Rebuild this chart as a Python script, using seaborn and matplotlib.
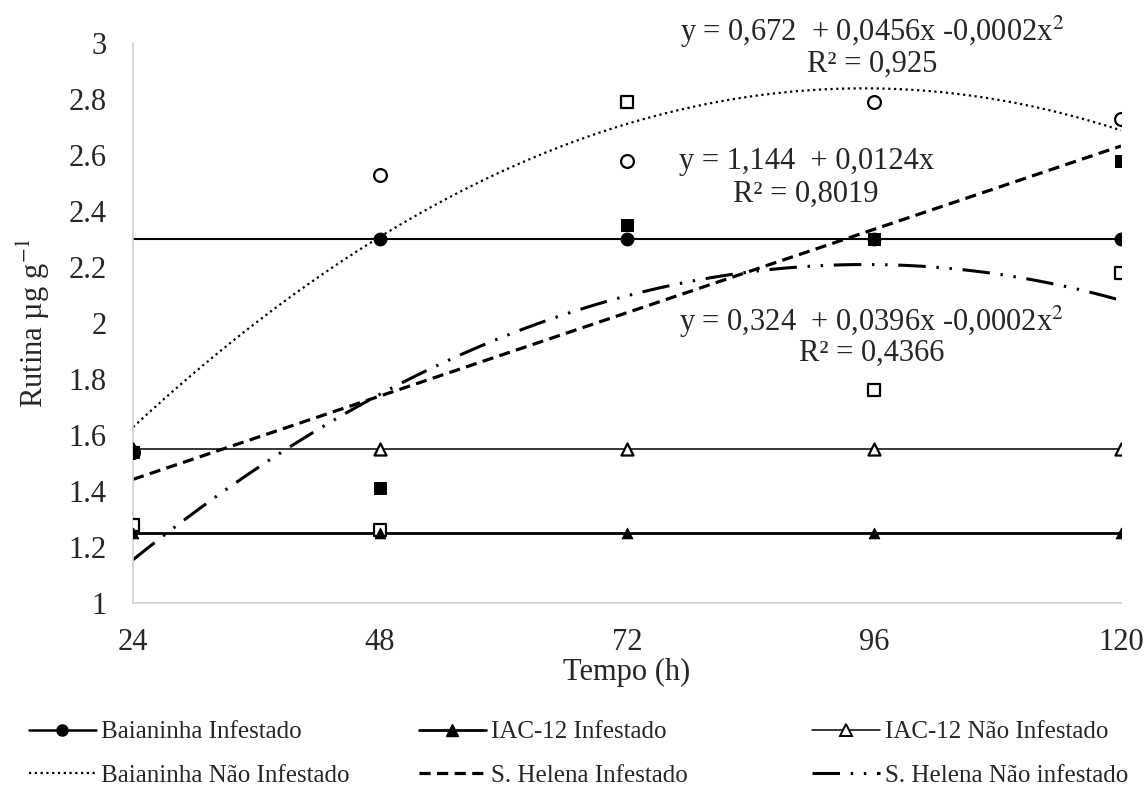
import numpy as np
import pandas as pd
import matplotlib
matplotlib.use("Agg")
import matplotlib.pyplot as plt
import seaborn as sns
from matplotlib.lines import Line2D
from matplotlib.ticker import FuncFormatter

# Rutin content (µg g-1) over time for each cultivar / infestation condition
horas = [24, 48, 72, 96, 120]
baianinha_inf = [1.54, 2.30, 2.30, 2.30, 2.30]
baianinha_nao_inf = [1.54, 2.53, 2.58, 2.79, 2.73]
iac12_inf = [1.25, 1.25, 1.25, 1.25, 1.25]
iac12_nao_inf = [1.55, 1.55, 1.55, 1.55, 1.55]
shelena_inf = [1.54, 1.41, 2.35, 2.30, 2.58]
shelena_nao_inf = [1.28, 1.26, 2.79, 1.76, 2.18]

# constant levels (no significant time effect)
nivel_baianinha_inf = 2.30
nivel_iac12_inf = 1.25
nivel_iac12_nao_inf = 1.55

# regression coefficients (b0, b1, b2)
coef_baianinha_nao_inf = [0.672, 0.0456, -0.00024]
coef_shelena_inf = [1.144, 0.0124, 0.0]
coef_shelena_nao_inf = [0.324, 0.0396, -0.000208]

equacoes = [
    ("y = 0,672  + 0,0456x -0,0002x$^2$", 95.8, 3.04),
    ("R² = 0,925", 95.8, 2.925),
    ("y = 1,144  + 0,0124x", 89.4, 2.575),
    ("R² = 0,8019", 89.4, 2.46),
    ("y = 0,324  + 0,0396x -0,0002x$^2$", 95.8, 2.005),
    ("R² = 0,4366", 95.8, 1.89),
]

sns.set_style("white")
plt.rcParams["font.family"] = ["Liberation Serif", "DejaVu Serif"]
plt.rcParams["mathtext.fontset"] = "stix"

fig = plt.figure(figsize=(11.47, 7.87), dpi=100)
ax = fig.add_axes([0.116, 0.2338, 0.8613, 0.7116])

xs = np.linspace(24, 120, 300)


def curva(c):
    return c[0] + c[1] * xs + c[2] * xs ** 2


curvas = pd.DataFrame({
    "x": xs,
    "bni": curva(coef_baianinha_nao_inf),
    "shi": curva(coef_shelena_inf),
    "shni": curva(coef_shelena_nao_inf),
    "bi": np.full_like(xs, nivel_baianinha_inf),
    "iaci": np.full_like(xs, nivel_iac12_inf),
    "iacni": np.full_like(xs, nivel_iac12_nao_inf),
})

pontilhado = (0, (1, 1.6))
tracejado = (0, (3.5, 2))
traco_ponto_ponto = (0, (9, 3.5, 0.8, 3.5, 0.8, 3.5))

sns.lineplot(data=curvas, x="x", y="iacni", ax=ax, color="black", lw=1.1)
sns.lineplot(data=curvas, x="x", y="iaci", ax=ax, color="black", lw=2.0)
sns.lineplot(data=curvas, x="x", y="bi", ax=ax, color="black", lw=1.5)
sns.lineplot(data=curvas, x="x", y="bni", ax=ax, color="black", lw=1.6,
             linestyle=pontilhado)
sns.lineplot(data=curvas, x="x", y="shi", ax=ax, color="black", lw=2.3,
             linestyle=tracejado)
sns.lineplot(data=curvas, x="x", y="shni", ax=ax, color="black", lw=2.2,
             linestyle=traco_ponto_ponto)

pts = pd.DataFrame({"h": horas, "bi": baianinha_inf, "bni": baianinha_nao_inf,
                    "iaci": iac12_inf, "iacni": iac12_nao_inf,
                    "shi": shelena_inf, "shni": shelena_nao_inf})

ms = 85
sns.scatterplot(data=pts, x="h", y="shni", ax=ax, marker="s", s=ms,
                facecolor="white", edgecolor="black", linewidth=1.6, zorder=5)
sns.scatterplot(data=pts, x="h", y="iacni", ax=ax, marker="^", s=75,
                facecolor="white", edgecolor="black", linewidth=1.6, zorder=5)
sns.scatterplot(data=pts, x="h", y="bni", ax=ax, marker="o", s=ms,
                facecolor="white", edgecolor="black", linewidth=1.6, zorder=5)
sns.scatterplot(data=pts, x="h", y="shi", ax=ax, marker="s", s=75,
                color="black", edgecolor="black", zorder=6)
sns.scatterplot(data=pts, x="h", y="iaci", ax=ax, marker="^", s=60,
                color="black", edgecolor="black", zorder=6)
sns.scatterplot(data=pts, x="h", y="bi", ax=ax, marker="o", s=ms,
                color="black", edgecolor="black", zorder=7)

for txt, x, y in equacoes:
    ax.text(x, y, txt, ha="center", va="center", fontsize=22, clip_on=False)

ax.set_xlim(24, 120)
ax.set_ylim(1, 3)
ax.set_xticks(horas)
ax.set_yticks(np.round(np.arange(1, 3.01, 0.2), 1))
ax.yaxis.set_major_formatter(FuncFormatter(lambda v, p: f"{v:g}"))
ax.tick_params(length=0, labelsize=22)
ax.tick_params(axis="x", pad=18)
ax.tick_params(axis="y", pad=19)
ax.set_xlabel("Tempo (h)", fontsize=22, labelpad=1)
ax.set_ylabel("Rutina µg g$^{-1}$", fontsize=22, labelpad=12)
for s in ["top", "right"]:
    ax.spines[s].set_visible(False)
for s in ["left", "bottom"]:
    ax.spines[s].set_color("#d0d0d0")
    ax.spines[s].set_linewidth(1.2)

colunas = [
    (0.025, [Line2D([], [], color="black", lw=1.8, marker="o", ms=8),
             Line2D([], [], color="black", lw=1.6, linestyle=pontilhado)],
     ["Baianinha Infestado", "Baianinha Não Infestado"]),
    (0.365, [Line2D([], [], color="black", lw=2.0, marker="^", ms=8),
             Line2D([], [], color="black", lw=2.3, linestyle=tracejado)],
     ["IAC-12 Infestado", "S. Helena Infestado"]),
    (0.708, [Line2D([], [], color="black", lw=1.1, marker="^", ms=8,
                    markerfacecolor="white", markeredgewidth=1.4),
             Line2D([], [], color="black", lw=2.2, linestyle=traco_ponto_ponto)],
     ["IAC-12 Não Infestado", "S. Helena Não infestado"]),
]
for x0, hs, ls in colunas:
    fig.legend(hs, ls, loc="center left", bbox_to_anchor=(x0, 0.042),
               frameon=False, fontsize=18, handlelength=2.7,
               handletextpad=0.2, labelspacing=0.85, borderpad=0,
               borderaxespad=0)

fig.savefig("out.png", dpi=100)
